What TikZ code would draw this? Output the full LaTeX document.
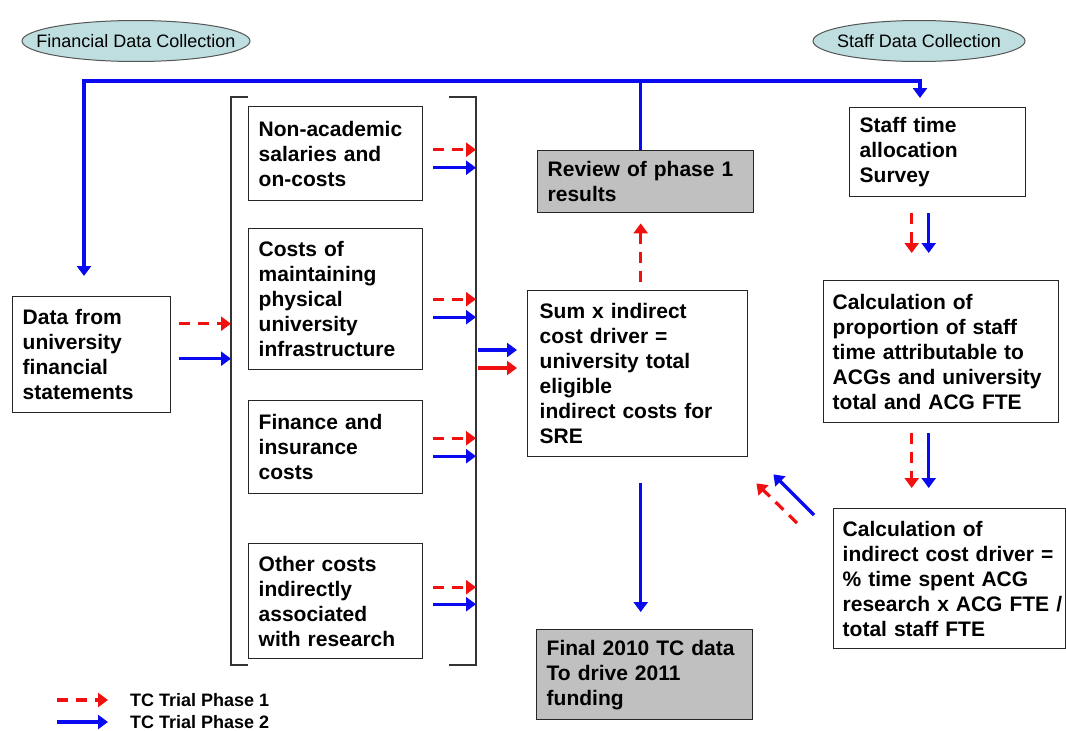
\documentclass[tikz,border=0pt]{standalone}
\usepackage{fontspec}
\setmainfont{Liberation Sans}
\usetikzlibrary{arrows.meta,shapes.geometric,calc}
\definecolor{boxgray}{HTML}{C0C0C0}
\definecolor{ovalfill}{HTML}{BEDEE0}
\definecolor{ovaldraw}{HTML}{555555}
\definecolor{myblue}{HTML}{0A0AF0}
\definecolor{myred}{HTML}{F01010}
\begin{document}
\begin{tikzpicture}[x=1pt,y=-1pt,
  box/.style={draw=black!85, line width=1.4pt, anchor=north west, align=left,
    inner xsep=10pt, inner ysep=3pt,
    font=\fontsize{21}{25}\selectfont\bfseries},
  gbox/.style={box, fill=boxgray},
  ovalshape/.style={draw=ovaldraw, line width=1pt, fill=ovalfill},
  ovaltext/.style={inner sep=0pt, font=\fontsize{18}{20}\selectfont},
  bl/.style={draw=myblue, line width=3.2pt, -{Triangle[length=10pt,width=14pt]}},
  rd/.style={draw=myred, line width=3.2pt, dash pattern=on 11pt off 8pt,
    -{Triangle[length=10pt,width=14pt]}},
  brk/.style={draw=black!80, line width=1.3pt},
  legtext/.style={anchor=west, inner sep=0pt, font=\fontsize{18}{20}\selectfont\bfseries}
]
\useasboundingbox (0,0) rectangle (1066,731);

% ovals
\path[ovalshape] (136,41) ellipse [x radius=114, y radius=20.5];
\node[ovaltext] (fin) at (136,41) {Financial Data Collection};
\path[ovalshape] (919,41) ellipse [x radius=106, y radius=20.5];
\node[ovaltext] (stc) at (919,41) {Staff Data Collection};

% boxes
\node[box, text width=138, minimum height=116] (data) at (12,296)
  {Data from\\university\\financial\\statements};
\node[box, text width=154, minimum height=94] (b1) at (248,106)
  {Non-academic\\salaries and\\on-costs};
\node[box, text width=154, minimum height=141] (b2) at (248,228)
  {Costs of\\maintaining\\physical\\university\\infrastructure};
\node[box, text width=154, minimum height=93] (b3) at (248,400)
  {Finance and\\insurance\\costs};
\node[box, text width=154, minimum height=115] (b4) at (248,543)
  {Other costs\\indirectly\\associated\\with research};
\node[box, text width=196, inner xsep=12pt, minimum height=166] (sum) at (527,290)
  {Sum x indirect\\cost driver =\\university total\\eligible\\indirect costs for\\SRE};
\node[gbox, text width=196, minimum height=62] (review) at (537,150)
  {Review of phase 1\\results};
\node[gbox, text width=196, minimum height=90] (final) at (536,629)
  {Final 2010 TC data\\To drive 2011\\funding};
\node[box, text width=156, minimum height=89] (staff) at (849,107)
  {Staff time\\allocation\\Survey};
\node[box, text width=217, inner xsep=9pt, minimum height=142] (calc) at (823,280)
  {Calculation of\\proportion of staff\\\mbox{time attributable to}\\\mbox{ACGs and university}\\total and ACG FTE};
\node[box, text width=214, inner xsep=9pt, minimum height=140] (calc2) at (833,508)
  {Calculation of\\\mbox{indirect cost driver =}\\\mbox{\% time spent ACG}\\\mbox{research x ACG FTE /}\\total staff FTE};

% bracket
\coordinate (brL) at (231,97);
\coordinate (brR) at (476,97);
\draw[brk] (248,97) -- (231,97) -- (231,665) -- (248,665);
\draw[brk] (449,97) -- (476,97) -- (476,665) -- (449,665);

% top collection line
\coordinate (tl) at (84,81);
\coordinate (tr) at (920,81);
\draw[bl, shorten >=20pt] ([xshift=-5pt]review.north) |- (tl) -- (tl |- data.north);
\draw[bl, shorten >=9pt] ([xshift=-5pt]review.north) |- (tr) -- (tr |- staff.north);

% boxes to bracket
\foreach \b/\ro/\bo in {b1/4/-14, b2/0/-18, b3/9/-9, b4/14/-3}{
  \draw[rd, shorten <=10pt] ([yshift=\ro pt]\b.east) -- ([yshift=\ro pt]\b.east -| brR);
  \draw[bl, shorten <=10pt] ([yshift=\bo pt]\b.east) -- ([yshift=\bo pt]\b.east -| brR);
}
% data to bracket
\draw[rd, shorten <=8pt] ([yshift=31pt]data.east) -- ([yshift=31pt]data.east -| brL);
\draw[bl, shorten <=8pt] ([yshift=-4pt]data.east) -- ([yshift=-4pt]data.east -| brL);

% bracket to sum
\draw[bl, shorten <=2pt, shorten >=10pt] (brR |- 0,350) coordinate (s1) -- (s1 -| sum.west);
\draw[rd, dash pattern=on 40pt off 0pt, shorten <=2pt, shorten >=10pt] (brR |- 0,368) coordinate (s2) -- (s2 -| sum.west);

% sum to review / final
\draw[rd, shorten <=8pt, shorten >=10pt] ([xshift=3pt]sum.north) -- ([xshift=3pt]sum.north |- review.south);
\draw[bl, shorten <=26pt, shorten >=17pt] ([xshift=3pt]sum.south) -- ([xshift=3pt]sum.south |- final.north);

% staff chain
\draw[rd, shorten <=16pt, shorten >=27pt] ([xshift=-26pt]staff.south) -- ([xshift=-26pt]staff.south |- calc.north);
\draw[bl, shorten <=16pt, shorten >=27pt] ([xshift=-9pt]staff.south) -- ([xshift=-9pt]staff.south |- calc.north);
\draw[rd, shorten <=10pt, shorten >=20pt] ([xshift=-26pt]staff.south |- calc.south) -- ([xshift=-26pt]staff.south |- calc2.north);
\draw[bl, shorten <=10pt, shorten >=20pt] ([xshift=-9pt]staff.south |- calc.south) -- ([xshift=-9pt]staff.south |- calc2.north);

% calc2 to sum (diagonal)
\draw[bl] ($(calc2.north west)+(-19,7)$) -- ($(sum.south east)+(25,17)$);
\draw[rd] ($(calc2.north west)+(-36,15)$) -- ($(sum.south east)+(8,26)$);

% legend
\coordinate (la1) at (57,700);
\coordinate (la2) at (57,722);
\draw[rd] (la1) -- ++(51,0);
\draw[bl] (la2) -- ++(51,0);
\node[legtext] (lt1) at (130,700) {TC Trial Phase 1};
\node[legtext] (lt2) at (130,722) {TC Trial Phase 2};
\end{tikzpicture}
\end{document}
